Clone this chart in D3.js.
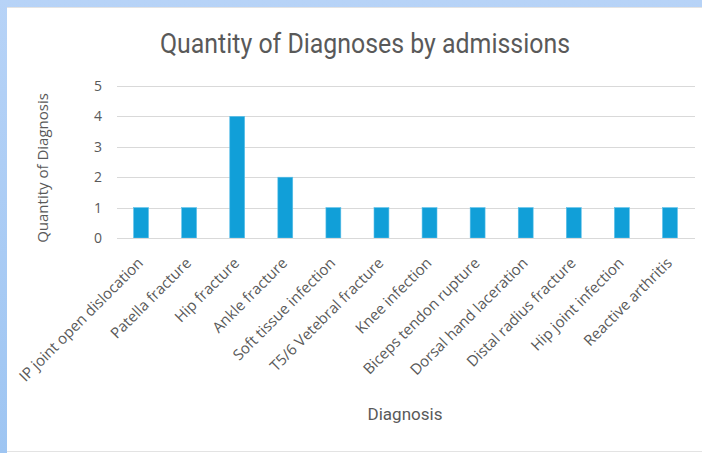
<!DOCTYPE html>
<html>
<head>
<meta charset="utf-8">
<script src="https://cdn.jsdelivr.net/npm/d3@7"></script>
<style>
  html, body { margin: 0; padding: 0; background: #fff; }
  svg { display: block; }
</style>
</head>
<body>
<script>
const categories = [
  "IP joint open dislocation", "Patella fracture", "Hip fracture", "Ankle fracture",
  "Soft tissue infection", "T5/6 Vetebral fracture", "Knee infection",
  "Biceps tendon rupture", "Dorsal hand laceration", "Distal radius fracture",
  "Hip joint infection", "Reactive arthritis"
];
const values = [1, 1, 4, 2, 1, 1, 1, 1, 1, 1, 1, 1];
const yTicks = [0, 1, 2, 3, 4, 5];

const W = 702, H = 453;
const svg = d3.select("body").append("svg").attr("width", W).attr("height", H);

// background frame
const defs = svg.append("defs");
const lg = defs.append("linearGradient").attr("id", "lb").attr("x1", 0).attr("y1", 0).attr("x2", 0).attr("y2", 1);
lg.append("stop").attr("offset", "0%").attr("stop-color", "#b7d3f7");
lg.append("stop").attr("offset", "100%").attr("stop-color", "#9ec5f2");
svg.append("rect").attr("x", 0).attr("y", 0).attr("width", W).attr("height", H).attr("fill", "url(#lb)");
svg.append("rect").attr("x", 7).attr("y", 7).attr("width", W - 7).attr("height", H - 7).attr("fill", "#ffffff");
svg.append("line").attr("x1", 7).attr("x2", W).attr("y1", 7.5).attr("y2", 7.5).attr("stroke", "#e3e3e3");
svg.append("line").attr("x1", 7).attr("x2", W).attr("y1", 451.5).attr("y2", 451.5).attr("stroke", "#e3e3e3");

const x = d3.scaleBand().domain(categories).range([117, 694]).paddingInner(0.69).paddingOuter(0.345);
const y = d3.scaleLinear().domain([0, 5]).range([238, 86]);

// gridlines
const grid = svg.append("g");
grid.selectAll("line").data(yTicks).join("line")
  .attr("x1", 117).attr("x2", 695)
  .attr("y1", d => Math.round(y(d)) + 0.5).attr("y2", d => Math.round(y(d)) + 0.5)
  .attr("stroke", "#d9d9d9").attr("stroke-width", 1);

// y axis labels
const yAxis = d3.axisLeft(y).tickValues(yTicks).tickFormat(d3.format("d")).tickSize(0).tickPadding(0);
const yg = svg.append("g").attr("transform", "translate(102,0)").call(yAxis);
yg.select(".domain").remove();
yg.selectAll("text").attr("font-family", "'Open Sans', 'DejaVu Sans', sans-serif")
  .attr("font-size", 14).attr("fill", "#595959");

// bars
svg.append("g").selectAll("rect").data(values).join("rect")
  .attr("x", (d, i) => x(categories[i]))
  .attr("y", d => y(d))
  .attr("width", x.bandwidth())
  .attr("height", d => y(0) - y(d))
  .attr("fill", "#119fd8")
  .attr("stroke", "#5cc0ea").attr("stroke-width", 0.6);

// x axis
const xAxis = d3.axisBottom(x).tickSize(0).tickPadding(0);
const xg = svg.append("g").attr("transform", "translate(0,238)").call(xAxis);
xg.select(".domain").remove();
xg.selectAll("text")
  .attr("font-family", "'Open Sans', 'DejaVu Sans', sans-serif")
  .attr("font-size", 15).attr("fill", "#595959")
  .attr("text-anchor", "end")
  .attr("dy", 0)
  .attr("transform", "translate(3,26) rotate(-45)");

svg.append("line").attr("x1", 117).attr("x2", 695).attr("y1", 238.5).attr("y2", 238.5).attr("stroke", "#d9d9d9");

// title
svg.append("text").attr("x", 365).attr("y", 53).attr("text-anchor", "middle")
  .attr("font-family", "Roboto, sans-serif")
  .attr("font-size", 27).attr("fill", "#595959")
  .attr("textLength", 410).attr("lengthAdjust", "spacingAndGlyphs")
  .text("Quantity of Diagnoses by admissions");

// y axis title
svg.append("text").attr("transform", "translate(48,168) rotate(-90)").attr("text-anchor", "middle")
  .attr("font-family", "'Open Sans', 'DejaVu Sans', sans-serif")
  .attr("font-size", 15).attr("fill", "#595959")
  .text("Quantity of Diagnosis");

// x axis title
svg.append("text").attr("x", 405).attr("y", 420).attr("text-anchor", "middle")
  .attr("font-family", "Roboto, sans-serif")
  .attr("font-size", 17).attr("fill", "#595959")
  .text("Diagnosis");
</script>
</body>
</html>
